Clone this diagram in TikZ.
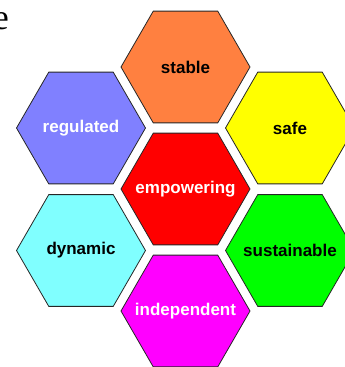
\documentclass[tikz,border=0pt]{standalone}
\usepackage{fontspec}
\setmainfont{Liberation Sans}
\newfontfamily\titlefont{Liberation Serif}
\definecolor{cstable}{RGB}{255,128,64}
\definecolor{creg}{RGB}{128,128,255}
\definecolor{cdyn}{RGB}{128,255,255}
\definecolor{csafe}{RGB}{255,255,0}
\definecolor{csus}{RGB}{0,255,0}
\definecolor{cemp}{RGB}{255,0,0}
\definecolor{cind}{RGB}{255,0,255}
\tikzset{
  hexline/.style={draw=black!85, line width=0.8pt, line join=miter},
  hexlabel/.style={inner sep=0pt, font=\fontsize{17}{20}\selectfont\bfseries},
  darktext/.style={text=black},
  lighttext/.style={text=white}
}
\newcommand\hexcell[5]{%
  \fill[#4] (#2) +(0:64.5) -- +(60:64.5) -- +(120:64.5) -- +(180:64.5) -- +(240:64.5) -- +(300:64.5) -- cycle;
  \draw[hexline] (#2) +(0:64.5) -- +(60:64.5) -- +(120:64.5) -- +(180:64.5) -- +(240:64.5) -- +(300:64.5) -- cycle;
  \node[hexlabel, #5] (#1) at (#2) {#3};
}
\begin{document}
\begin{tikzpicture}[x=1pt,y=-1pt]
\useasboundingbox (0,0) rectangle (345,367);
\node[anchor=base east, inner sep=0pt, font=\titlefont\fontsize{36}{40}\selectfont] (title) at (9,29.5) {e};
\hexcell{stable}{185.5,67}{stable}{cstable}{darktext}
\hexcell{empowering}{185.5,189}{empowering}{cemp}{lighttext}
\hexcell{independent}{185.5,311}{independent}{cind}{lighttext}
\hexcell{regulated}{81,128}{regulated}{creg}{lighttext}
\hexcell{dynamic}{81,250.5}{dynamic}{cdyn}{darktext}
\hexcell{safe}{290,128}{safe}{csafe}{darktext}
\hexcell{sustainable}{290,250.5}{sustainable}{csus}{darktext}
\end{tikzpicture}
\end{document}
